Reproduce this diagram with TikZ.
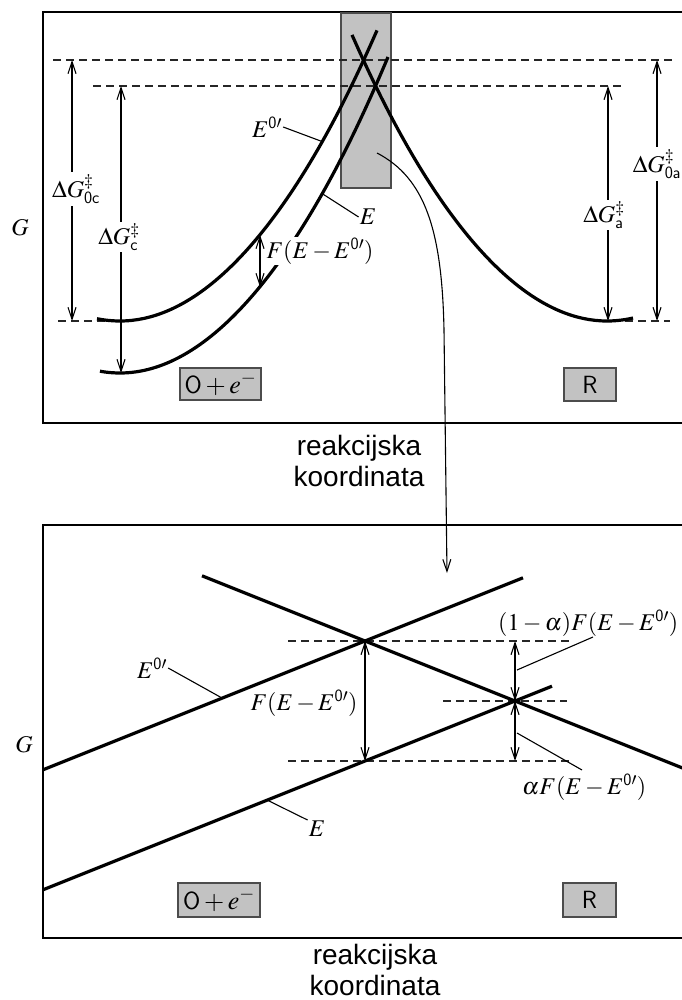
\documentclass[tikz,border=0pt]{standalone}
\usepackage{mathptmx}
\usepackage{fontspec}
\setmainfont{Liberation Serif}
\setsansfont{Liberation Sans}
\usetikzlibrary{arrows.meta}
\definecolor{boxgray}{HTML}{C2C2C2}

\begin{document}
\begin{tikzpicture}[
  x=1pt,y=-1pt,
  font=\fontsize{24}{28}\selectfont,
  panel/.style={draw=black,line width=2.2pt},
  curve/.style={draw=black,line width=3.2pt},
  guide/.style={draw=black!85,line width=1.4pt,dash pattern=on 8pt off 5pt},
  dim/.style={draw=black,line width=1.1pt,{Straight Barb[length=12pt,width=8pt]}-{Straight Barb[length=12pt,width=8pt]}},
  lead/.style={draw=black,line width=1.1pt},
  lbl/.style={inner sep=1pt},
  cut/.style={fill=white,inner sep=2pt},
  species/.style={draw=black!70,line width=1.3pt,fill=boxgray,inner sep=0pt,font=\fontsize{26}{28}\selectfont},
  axlbl/.style={font=\sffamily\fontsize{28}{31}\selectfont,align=center},
]
\useasboundingbox (0,0) rectangle (681,1000);

% upper panel
\draw[panel] (43,12) rectangle (700,423);
\filldraw[fill=boxgray,draw=black!70,line width=1.3pt] (341,13) rectangle (391,188);
\draw[guide] (53,60) -- (673,60);
\draw[guide] (93,86) -- (625,86);
\draw[guide] (58,321) -- (118,321);
\draw[guide] (612,321) -- (670,321);
\draw[curve] (97,318.7) parabola bend (120,321) (377,30.4);
\draw[curve] (100,371.2) parabola bend (120,373) (388,57);
\draw[curve] (352,34.9) parabola bend (607,321) (633,318);
\coordinate (a0c) at (72,60);   \coordinate (b0c) at (72,321);
\coordinate (ac)  at (121,86);  \coordinate (bc)  at (121,373);
\coordinate (a0a) at (657,60);  \coordinate (b0a) at (657,321);
\coordinate (aa)  at (608,86);  \coordinate (ba)  at (608,321);
\coordinate (af)  at (260,235); \coordinate (bf)  at (260,287);
\draw[dim] (a0c) -- (b0c);
\draw[dim] (ac) -- (bc);
\draw[dim] (a0a) -- (b0a);
\draw[dim] (aa) -- (ba);
\draw[dim] (af) -- (bf);
\node[cut] (g0c) at (76,189) {$\Delta G^{\ddagger}_{\mathsf{0c}}$};
\node[cut] (gc) at (119,237) {$\Delta G^{\ddagger}_{\mathsf{c}}$};
\node[cut] (g0a) at (657,164) {$\Delta G^{\ddagger}_{\mathsf{0a}}$};
\node[cut] (ga) at (604,215) {$\Delta G^{\ddagger}_{\mathsf{a}}$};
\node[fill=white,inner sep=1pt] (ftop) at (320,251) {$F(E-E^{\mathsf{0}\prime})$};
\node[lbl] (gtop) at (20,228) {$G$};
\node[lbl] (e0top) at (267,127) {$E^{\mathsf{0}\prime}$};
\coordinate (e0tip) at (322,141.5);
\draw[lead] (e0top.east) -- (e0tip);
\node[lbl] (e1top) at (368,217) {$E$};
\coordinate (e1tip) at (322,193.5);
\draw[lead] (e1tip) -- (e1top.west);
\node[species,minimum width=81pt,minimum height=32pt] (oxtop) at (220.5,384) {$\mathsf{O}+e^{-}$};
\node[species,minimum width=52pt,minimum height=33pt] (redtop) at (590,384.5) {$\mathsf{R}$};
\node[axlbl] (rctop) at (359,461) {reakcijska\\koordinata};

% lower panel
\draw[panel] (43,525) rectangle (700,938);
\draw[guide] (288,641) -- (570,641);
\draw[guide] (443,701) -- (567,701);
\draw[guide] (288,761) -- (570,761);
\draw[curve] (43,769.8) -- (523,577.8);
\draw[curve] (202,575.8) -- (700,775);
\draw[curve] (43,889.8) -- (552,686.2);
\coordinate (x1) at (365,641); \coordinate (x1b) at (365,761);
\coordinate (x2a) at (515,641); \coordinate (x2) at (515,701); \coordinate (x2b) at (515,761);
\draw[dim] (x1) -- (x1b);
\draw[dim] (x2a) -- (x2);
\draw[dim] (x2) -- (x2b);
\node[lbl] (fbot) at (304,703) {$F(E-E^{\mathsf{0}\prime})$};
\node[lbl,anchor=west] (fa1) at (497,623) {$(1-\alpha)F(E-E^{\mathsf{0}\prime})$};
\coordinate (fa1tip) at (517,670);
\draw[lead] (fa1tip) -- (593,637);
\node[lbl,anchor=west] (fa) at (521,787) {$\alpha F(E-E^{\mathsf{0}\prime})$};
\coordinate (fatip) at (517,733);
\draw[lead] (fatip) -- (582,770);
\node[lbl] (gbot) at (24,745) {$G$};
\node[lbl] (e0bot) at (152,668) {$E^{\mathsf{0}\prime}$};
\coordinate (e0btip) at (222,698);
\draw[lead] (e0bot.east) -- (e0btip);
\node[lbl] (e1bot) at (317,829) {$E$};
\coordinate (e1btip) at (267,800);
\draw[lead] (e1btip) -- (e1bot.north west);
\node[species,minimum width=82pt,minimum height=34pt] (oxbot) at (219,900) {$\mathsf{O}+e^{-}$};
\node[species,minimum width=53pt,minimum height=34pt] (redbot) at (589.5,900) {$\mathsf{R}$};
\node[axlbl] (rcbot) at (375,970) {reakcijska\\koordinata};

% zoom connector
\coordinate (zoomsrc) at (377,153);
\coordinate (zoomdst) at (447,573);
\draw[lead,-{Straight Barb[length=12pt,width=8pt]}] (zoomsrc) .. controls (425,178) and (442,230) .. (444,330) -- (zoomdst);
\end{tikzpicture}
\end{document}
